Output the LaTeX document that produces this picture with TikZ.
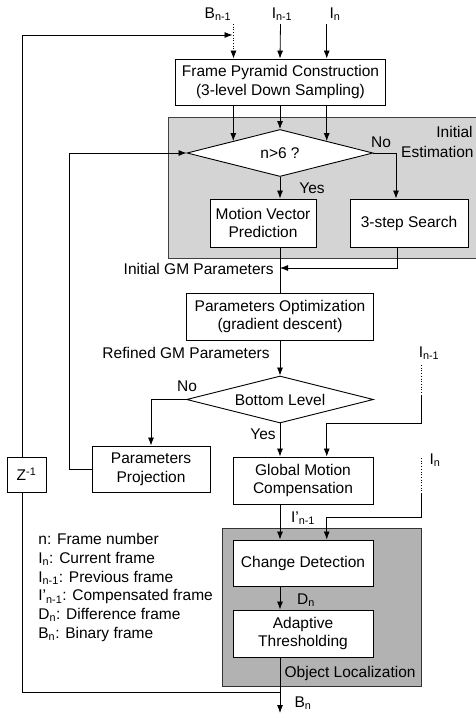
\documentclass[tikz,border=0pt]{standalone}
\usepackage{fontspec}
\setmainfont{Liberation Sans}
\usetikzlibrary{arrows.meta,shapes.geometric}
\newcommand{\sbs}[1]{\textsubscript{#1}}
\begin{document}
\begin{tikzpicture}[x=1pt,y=-1pt,
  font=\fontsize{15.5}{18.7}\selectfont,
  line width=0.8pt,
  arr/.style={-{Latex[length=8pt,width=6pt]}},
  blk/.style={draw,fill=white,align=center,inner sep=0pt,line width=0.9pt},
  dia/.style={draw,fill=white,diamond,shape aspect=4,inner sep=0pt,line width=0.9pt},
  lbl/.style={inner sep=0pt,align=left},
  dot/.style={dotted,line width=0.7pt}]
\useasboundingbox (0,0) rectangle (476,718);

% grouping panels
\draw[fill=black!17,draw=black!75,line width=0.9pt] (168,117) rectangle (480,258);
\draw[fill=black!30,draw=black!80,line width=0.9pt] (222,528) rectangle (421,686);
\node[lbl,anchor=east] at (473,132) {Initial};
\node[lbl,anchor=east] at (474,152) {Estimation};
\node[lbl,anchor=east] at (416,673) {Object Localization};

% main axis and feedback abscissa
\coordinate (m) at (280,0);
\coordinate (fb) at (22,0);

% blocks
\node[blk,minimum width=210pt,minimum height=46pt] (fpc) at (280.5,82) {Frame Pyramid Construction\\(3-level Down Sampling)};
\node[dia,minimum width=186pt,minimum height=47pt] (d1) at (280,153) {n>6 ?};
\node[blk,minimum width=106pt,minimum height=48pt] (mvp) at (263,223) {Motion Vector\\Prediction};
\node[blk,minimum width=118pt,minimum height=48pt] (tss) at (409,223) {3-step Search};
\node[blk,minimum width=187pt,minimum height=47pt] (po) at (280,316.5) {Parameters Optimization\\(gradient descent)};
\node[dia,minimum width=187pt,minimum height=47pt] (d2) at (280,399.5) {Bottom Level};
\node[blk,minimum width=118pt,minimum height=46pt] (pp) at (151,469) {Parameters\\Projection};
\node[blk,minimum width=39pt,minimum height=35pt] (z) at (26.5,474.5) {Z\textsuperscript{-1}};
\node[blk,minimum width=140pt,minimum height=47pt] (gmc) at (303,480.5) {Global Motion\\Compensation};
\node[blk,minimum width=140pt,minimum height=46pt] (cd) at (303,563) {Change Detection};
\node[blk,minimum width=140pt,minimum height=47pt] (at) at (303,633.5) {Adaptive\\Thresholding};

% input labels
\node[lbl] (bin) at (218,14) {B\sbs{n-1}};
\node[lbl] (iin1) at (282,14) {I\sbs{n-1}};
\node[lbl] (iin) at (335,14) {I\sbs{n}};
\coordinate (bt) at (233.5,24);
\coordinate (bj) at (233.5,35);

% inputs into the pyramid
\draw[dot,arr] (bt) -- (bt |- fpc.north);
\draw[arr] (fpc.north |- bt) -- (fpc.north -| m);
\draw[arr] (d1.north east |- bt) -- (d1.north east |- fpc.north);

% pyramid to decision
\draw[arr] (fpc.south -| d1.north west) -- (d1.north west);
\draw[arr] (fpc.south -| m) -- (d1.north);
\draw[arr] (fpc.south -| d1.north east) -- (d1.north east);

% decision n>6
\coordinate (no1) at (396,0);
\draw[arr] (d1.east) -| (no1 |- tss.north);
\node[lbl] at (381,142) {No};
\draw[arr] (d1.south) -- (d1.south |- mvp.north);
\node[lbl] at (312,188) {Yes};

% initial parameters
\coordinate (ts) at (397,268);
\draw (mvp.south -| m) -- (po.north -| m);
\draw[arr] (tss.south -| ts) |- (m |- ts);
\node[lbl,anchor=east] at (274,268.5) {Initial GM Parameters};

% refinement loop
\draw[arr] (po.south -| m) -- (d2.north);
\node[lbl,anchor=east] at (270,352.5) {Refined GM Parameters};
\draw[arr] (d2.west) -| (pp.north);
\node[lbl] at (187,386) {No};
\coordinate (lp) at (69,0);
\draw[arr] (pp.west) -| (lp |- d1.west) -- (d1.west);
\draw[arr] (d2.south) -- (d2.south |- gmc.north);
\node[lbl] at (263,434) {Yes};

% previous frame into compensation
\node[lbl] at (429,353) {I\sbs{n-1}};
\coordinate (r1) at (421,365);
\coordinate (r1s) at (421,395);
\coordinate (r1t) at (421,423);
\draw[dot] (r1) -- (r1s);
\draw[arr] (r1s) -- (r1t) -| (d1.north east |- gmc.north);

% compensated frame into change detection
\draw[arr] (gmc.south -| m) -- (cd.north -| m);
\node[lbl] at (303,518) {I'\sbs{n-1}};
\node[lbl] at (435,460) {I\sbs{n}};
\coordinate (r2) at (421,458);
\coordinate (r2s) at (421,493);
\coordinate (r2t) at (421,517);
\draw[dot] (r2) -- (r2s);
\draw[arr] (r2s) -- (r2t) -| (d1.north east |- cd.north);

% object localization
\draw[arr] (cd.south -| m) -- (at.north -| m);
\node[lbl] at (306,600) {D\sbs{n}};
\coordinate (out) at (280,713);
\draw[arr] (at.south -| m) -- (out);
\node[lbl] at (303,703) {B\sbs{n}};

% delayed binary frame fed back
\coordinate (fj) at (280,692);
\draw (fj) -| (fb |- z.south);
\draw[arr] (fb |- z.north) |- ([xshift=-1pt]bj);

% legend
\node[lbl,anchor=north west] at (38,533) {n: Frame number\\
I\sbs{n}: Current frame\\
I\sbs{n-1}: Previous frame\\
I'\sbs{n-1}: Compensated frame\\
D\sbs{n}: Difference frame\\
B\sbs{n}: Binary frame};
\end{tikzpicture}
\end{document}
